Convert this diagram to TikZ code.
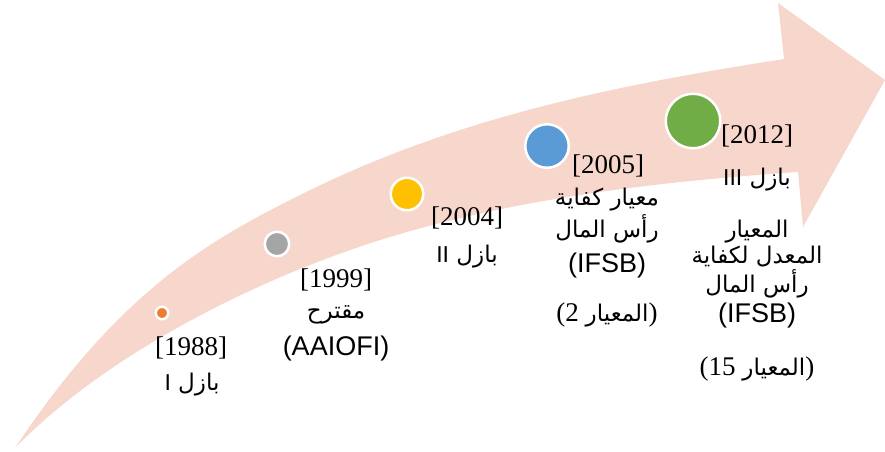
\documentclass[tikz,border=0pt]{standalone}
\usepackage{fontspec}
\setmainfont{Liberation Serif}
\newfontfamily\latinsans{Liberation Sans}
\newfontfamily\arabicfont[Script=Arabic]{DejaVu Sans}
\TeXXeTstate=1
\usetikzlibrary{positioning}

\definecolor{arrowpink}{HTML}{F7D6CC}
\definecolor{dotorange}{HTML}{ED7D31}
\definecolor{dotgray}{HTML}{A5A5A5}
\definecolor{dotyellow}{HTML}{FFC000}
\definecolor{dotblue}{HTML}{5B9BD5}
\definecolor{dotgreen}{HTML}{70AD47}

\tikzset{
    dot/.style={circle, draw=white, line width=2.5pt, inner sep=0pt},
    year/.style={anchor=base, inner sep=0pt, font=\fontsize{27}{30}\selectfont},
    note/.style={anchor=base, inner sep=0pt, font=\fontsize{23}{27}\arabicfont},
    latin/.style={anchor=base, inner sep=0pt, font=\fontsize{27}{30}\latinsans}
}

\begin{document}
\begin{tikzpicture}[x=1pt, y=-1pt]
    \useasboundingbox (0,0) rectangle (885,451);
    % curved arrow
    \fill[arrowpink] (15,448) .. controls (120,290) and (210,240) .. (300,195)
        .. controls (460,115) and (624,84) .. (784,59)
        -- (778,3) -- (885,80) -- (803,227) -- (798,172)
        .. controls (668,181) and (530,196) .. (400,234)
        .. controls (270,272) and (110,350) .. (15,448) -- cycle;

    % dots
    \node[dot, fill=dotorange, minimum size=12.5pt] (d1988) at (162,313) {};
    \node[dot, fill=dotgray, minimum size=24.5pt] (d1999) at (277,244) {};
    \node[dot, fill=dotyellow, minimum size=32.5pt] (d2004) at (407,194) {};
    \node[dot, fill=dotblue, minimum size=43.5pt] (d2005) at (547,146) {};
    \node[dot, fill=dotgreen, minimum size=54.5pt] (d2012) at (693,121) {};

    % 1988
    \node[year] (y1988) at (191,355) {[1988]};
    \node[note] (b1988) at (192,390) {\beginR بازل {\latinsans I}\endR};

    % 1999
    \node[year] (y1999) at (336,287) {[1999]};
    \node[note] (m1999) at (336,318) {\beginR مقترح\endR};
    \node[latin] (a1999) at (336,355) {(AAIOFI)};

    % 2004
    \node[year] (y2004) at (467,225) {[2004]};
    \node[note] (b2004) at (467,262) {\beginR بازل {\latinsans II}\endR};

    % 2005
    \node[year] (y2005) at (608,173) {[2005]};
    \node[note] (m2005) at (607,205) {\beginR معيار كفاية\endR};
    \node[note] (r2005) at (607,237) {\beginR رأس المال\endR};
    \node[latin] (i2005) at (607,272) {(IFSB)};
    \node[year] (s2005) at (607,321) {(2 {\fontsize{23}{27}\arabicfont\beginR المعيار\endR})};

    % 2012
    \node[year] (y2012) at (757,143) {[2012]};
    \node[note] (b2012) at (757,185) {\beginR بازل {\latinsans III}\endR};
    \node[note] (m2012) at (757,237) {\beginR المعيار\endR};
    \node[note] (k2012) at (757,263) {\beginR المعدل لكفاية\endR};
    \node[note] (r2012) at (757,292) {\beginR رأس المال\endR};
    \node[latin] (i2012) at (757,322) {(IFSB)};
    \node[year] (s2012) at (757,375) {(15 {\fontsize{23}{27}\arabicfont\beginR المعيار\endR})};
\end{tikzpicture}
\end{document}
